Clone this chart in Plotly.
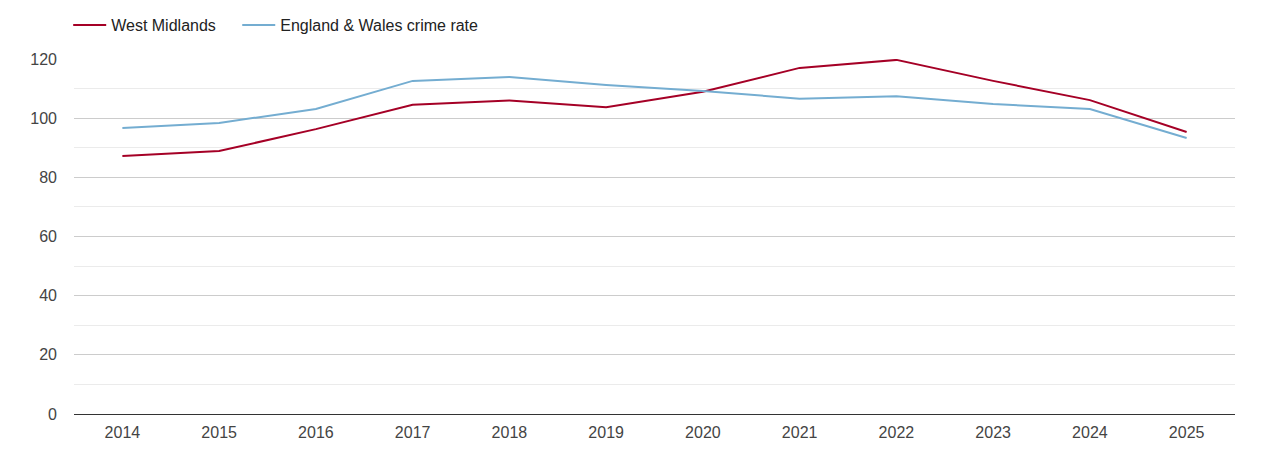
import plotly.graph_objects as go

# values
years = ['2014', '2015', '2016', '2017', '2018', '2019', '2020', '2021', '2022', '2023', '2024', '2025']
west_midlands = [87.2, 88.9, 96.3, 104.5, 106.0, 103.7, 108.9, 117.0, 119.7, 112.6, 106.1, 95.3]
england_wales = [96.7, 98.4, 103.1, 112.6, 113.9, 111.2, 109.2, 106.6, 107.4, 104.8, 103.1, 93.3]

trace1 = go.Scatter(x=years, y=west_midlands, mode='lines', name='West Midlands',
                    line=dict(color='#a50026', width=2), legend='legend')
trace2 = go.Scatter(x=years, y=england_wales, mode='lines', name='England & Wales crime rate',
                    line=dict(color='#74add1', width=2), legend='legend2')

legend_style = dict(orientation='h', xanchor='left', y=1.0, yanchor='top',
                    yref='container', font=dict(size=16, color='#222'), itemwidth=33)

# page body adds an 8px offset, so the figure is a bit smaller than the window
layout = go.Layout(
    width=1254, height=434,
    margin=dict(l=66, r=27, t=51, b=28, autoexpand=False),
    paper_bgcolor='white', plot_bgcolor='white',
    font=dict(family='Arial, Liberation Sans, sans-serif', size=16, color='#444'),
    showlegend=True,
    legend=dict(x=-0.005, **legend_style),
    legend2=dict(x=0.1406, **legend_style),
    xaxis=dict(type='category', range=[-0.5, 11.5], showgrid=False,
               showline=True, linecolor='#333', linewidth=1, automargin=False,
               ticks='', fixedrange=True, ticklabelstandoff=4),
    yaxis=dict(range=[0, 120], dtick=20, showgrid=True, gridcolor='#cccccc',
               zeroline=False, showline=False, ticks='', ticklabelstandoff=16,
               automargin=False,
               minor=dict(dtick=10, showgrid=True, gridcolor='#ebebeb')),
)

fig = go.Figure(data=[trace1, trace2], layout=layout)
fig.write_html('out.html')
